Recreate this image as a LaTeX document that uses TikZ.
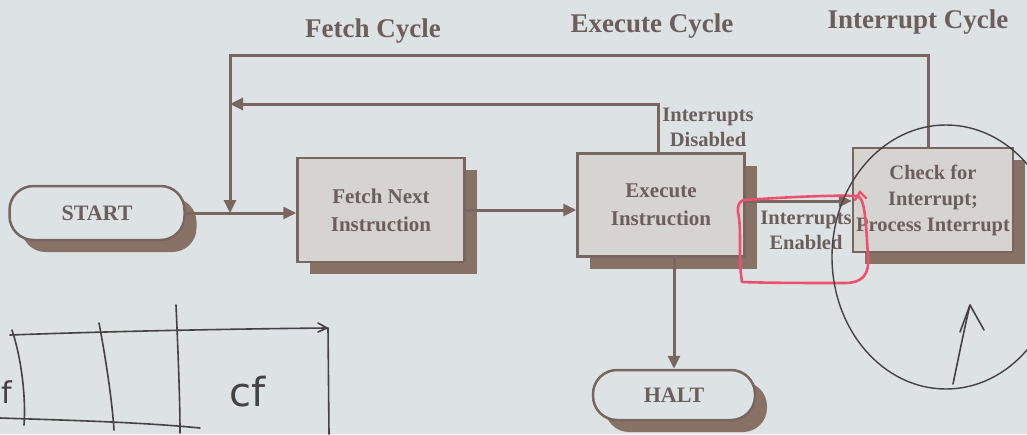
\documentclass[tikz,border=0pt]{standalone}
\usepackage{fontspec}
\setmainfont{Liberation Serif}
\newfontfamily\handfont{DejaVu Sans}
\usetikzlibrary{shadows,arrows.meta}
\definecolor{bgc}{RGB}{221,226,229}
\definecolor{linec}{RGB}{122,102,96}
\definecolor{boxc}{RGB}{214,212,209}
\definecolor{shadc}{RGB}{136,113,101}
\definecolor{textc}{RGB}{108,94,90}
\definecolor{penred}{RGB}{236,82,112}
\definecolor{penc}{RGB}{70,66,66}
\tikzset{
  shad/.style={drop shadow={shadow xshift=12pt, shadow yshift=-12pt, fill=shadc, opacity=1}},
  procbox/.style={draw=linec, line width=2.5pt, fill=boxc, shad, align=center, text=textc,
     font=\fontsize{21}{28}\selectfont\bfseries, inner sep=0pt},
  pill/.style={draw=linec, line width=2.5pt, fill=bgc, shad, rounded corners=24pt, text=textc,
     font=\fontsize{22}{24}\selectfont\bfseries, inner sep=0pt},
  conn/.style={draw=linec, line width=3pt},
  arr/.style={conn, -{Triangle[length=13pt,width=12pt]}},
  title/.style={text=textc, font=\fontsize{27}{30}\selectfont\bfseries},
  lab/.style={text=textc, font=\fontsize{20.5}{25}\selectfont\bfseries, align=center},
  pen/.style={draw=penc, line width=1.6pt, line cap=round, line join=round},
}
\begin{document}
\begin{tikzpicture}[x=1pt,y=-1pt]
\fill[bgc] (0,0) rectangle (1027,434);
\useasboundingbox (0,0) rectangle (1027,434);

% titles
\node[title] (tf) at (373,31) {Fetch Cycle};
\node[title] (te) at (652,26) {Execute Cycle};
\node[title] (ti) at (918,22) {Interrupt Cycle};

% nodes
\node[pill, minimum width=175pt, minimum height=54pt] (start) at (97,213) {START};
\node[procbox, minimum width=167pt, minimum height=104pt] (fetch) at (381,210) {Fetch Next\\Instruction};
\node[procbox, minimum width=167pt, minimum height=103pt] (exec) at (661,205) {Execute\\Instruction};
\node[procbox, minimum width=160pt, minimum height=104pt, font=\fontsize{20.5}{26}\selectfont\bfseries] (check) at (933,200) {Check for\\Interrupt;\\Process Interrupt};
\node[pill, minimum width=162pt, minimum height=50pt] (halt) at (674,395) {HALT};

% junction coordinates
\coordinate (top) at (230,55);
\coordinate (jin) at (230,104);
\coordinate (jmain) at (230,213);

% connectors
\draw[arr] (start.east) -- (start.east -| fetch.west);
\draw[arr] (fetch.east) -- (fetch.east -| exec.west);
\draw[arr] ([yshift=4pt]exec.east) -- ([yshift=4pt]exec.east -| check.west);
\draw[arr] (halt.north |- exec.south) -- (halt.north);
\draw[arr] ([xshift=-3pt]exec.north) |- (jin);
\draw[arr] ([xshift=-5pt]check.north) |- (top) -- (jmain);

% labels
\node[lab] (ldis) at (708,127) {Interrupts\\Disabled};
\node[lab] (len) at (806,230) {Interrupts\\Enabled};

% pen annotations
\draw[penred, line width=2.6pt, line cap=round, line join=round]
  (744,200) .. controls (790,197) and (830,195) .. (858,196)
  .. controls (866,200) and (866,230) .. (868,255)
  .. controls (870,275) and (862,283) .. (845,283)
  .. controls (810,283) and (770,283) .. (742,282)
  .. controls (738,260) and (742,230) .. (738,212)
  .. controls (737,205) and (740,201) .. (744,200);
\draw[penred, line width=2.4pt, line cap=round] (855,200) -- (860,192) -- (866,198);
\draw[pen, line width=1.4pt] (946,257) ellipse [x radius=114, y radius=132];
\draw[pen] (953,384) .. controls (958,360) and (964,330) .. (970,305);
\draw[pen] (960,332) -- (970,305) -- (984,330);

% handwriting bottom-left
\draw[pen] (10,335) .. controls (120,331) and (230,329) .. (326,328);
\draw[pen] (318,323) -- (327,328) -- (318,332);
\draw[pen] (328,328) -- (329,434);
\draw[pen] (12,330) .. controls (22,360) and (26,400) .. (24,425);
\draw[pen] (99,323) .. controls (106,360) and (112,400) .. (114,430);
\draw[pen] (176,305) .. controls (178,350) and (180,400) .. (180,433);
\draw[pen] (0,418) .. controls (60,420) and (140,422) .. (200,428);
\node[text=penc, font=\handfont\fontsize{40}{40}\selectfont] (cf) at (248,392) {cf};
\node[text=penc, font=\handfont\fontsize{30}{30}\selectfont, anchor=west, inner sep=0pt] (ff) at (1,392) {f};
\end{tikzpicture}
\end{document}
